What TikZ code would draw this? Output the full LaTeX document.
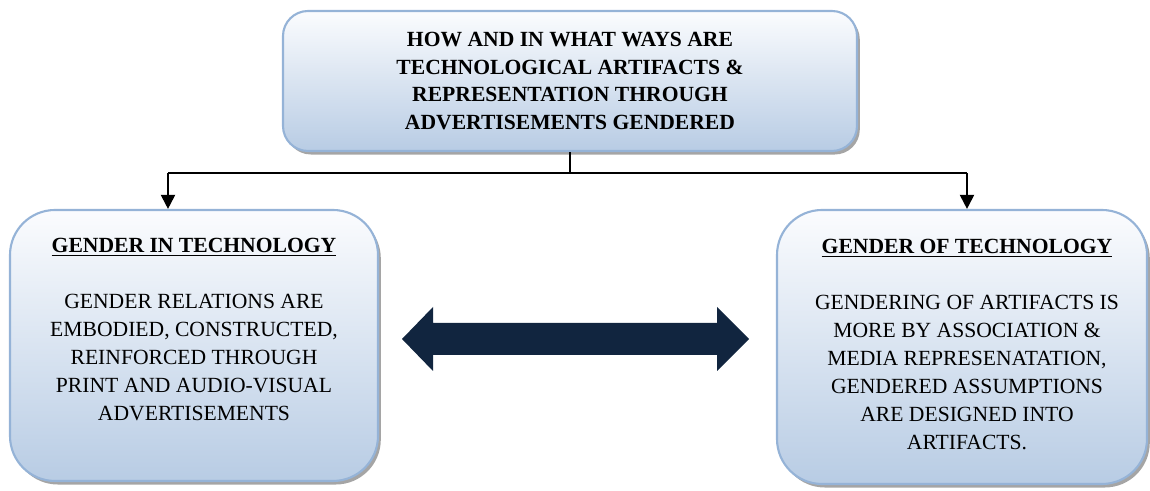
\documentclass[tikz,border=0pt]{standalone}
\usepackage{fontspec}
\setmainfont{Liberation Serif}
\usepackage{xcolor,tikz}
\usetikzlibrary{positioning,arrows.meta,shadows}
\definecolor{boxtop}{HTML}{FBFCFE}
\definecolor{boxbot}{HTML}{B8CCE4}
\definecolor{boxline}{HTML}{95B3D7}
\definecolor{navy}{HTML}{11253F}
\begin{document}
\begin{tikzpicture}[every node/.style={font=\fontsize{12.3}{15.9}\selectfont},
  panel/.style={rounded corners=#1,draw=boxline,line width=1.2pt,top color=boxtop,bottom color=boxbot,
    drop shadow={shadow xshift=1.6pt,shadow yshift=-2pt,fill=black!70,opacity=.5}},
  panel/.default=.9cm,
  blurb/.style={align=center,inner sep=0pt,anchor=north},
  feed/.style={line width=1.1pt,-{Triangle[width=.28cm,length=.28cm]}}]
\useasboundingbox (0,0) rectangle (23,9.82);
\node[panel=.5cm,minimum width=11.48cm,minimum height=2.8cm,align=center] (top) at (11.4,8.2)
  {\textbf{HOW AND IN WHAT WAYS ARE}\\\textbf{TECHNOLOGICAL ARTIFACTS \&}\\\textbf{REPRESENTATION THROUGH}\\\textbf{ADVERTISEMENTS GENDERED}};
\node[panel,minimum width=7.36cm,minimum height=5.42cm] (left) at (3.88,2.91) {};
\node[panel,minimum width=7.4cm,minimum height=5.48cm] (right) at (19.24,2.88) {};
\node[blurb,below=.58cm of left.north] (lefttext)
  {\underline{\textbf{GENDER IN TECHNOLOGY}}\\[\baselineskip]
   GENDER RELATIONS ARE\\EMBODIED, CONSTRUCTED,\\REINFORCED THROUGH\\PRINT AND AUDIO-VISUAL\\ADVERTISEMENTS};
\node[blurb,below=.6cm of right.north,xshift=.1cm] (righttext)
  {\underline{\textbf{GENDER OF TECHNOLOGY}}\\[\baselineskip]
   GENDERING OF ARTIFACTS IS\\MORE BY ASSOCIATION \&\\MEDIA REPRESENATATION,\\GENDERED ASSUMPTIONS\\ARE DESIGNED INTO\\ARTIFACTS.};
\coordinate (lj) at (3.36,6.36);
\coordinate (rj) at (19.34,6.36);
\draw[line width=.6pt] (top.south) -- (top.south |- lj);
\draw[line width=.6pt] (lj) -- (rj);
\draw[feed] (lj) -- (lj |- left.north);
\draw[feed] (rj) -- (rj |- right.north);
\fill[navy] (8.04,3.04) -- (8.66,3.68) -- (8.66,3.36) -- (14.34,3.36) -- (14.34,3.68) -- (14.98,3.04)
  -- (14.34,2.40) -- (14.34,2.72) -- (8.66,2.72) -- (8.66,2.40) -- cycle;
\end{tikzpicture}
\end{document}
